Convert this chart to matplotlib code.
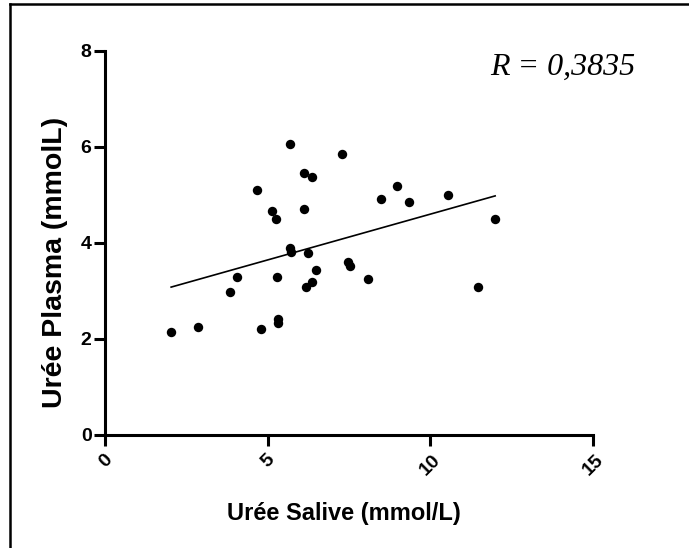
import numpy as np
import matplotlib
matplotlib.use("Agg")
import matplotlib.pyplot as plt
from matplotlib.lines import Line2D

# Urée salive vs urée plasma (mmol/L)
salive = [2.02, 2.86, 3.82, 4.04, 4.78, 5.31, 5.32, 5.29, 4.65, 5.12, 5.25,
          5.67, 6.12, 6.35, 6.11, 5.68, 5.70, 6.23, 6.48, 6.35, 6.17, 7.27,
          7.47, 7.53, 8.08, 8.47, 8.96, 9.33, 10.55, 11.46, 11.99]
plasma = [2.13, 2.25, 2.98, 3.28, 2.20, 2.41, 2.32, 3.28, 5.10, 4.66, 4.49,
          6.06, 5.45, 5.37, 4.70, 3.88, 3.80, 3.78, 3.43, 3.18, 3.08, 5.84,
          3.60, 3.52, 3.25, 4.91, 5.17, 4.84, 4.99, 3.08, 4.49]
x_ticks = [0, 5, 10, 15]
y_ticks = [0, 2, 4, 6, 8]
r_text = "R = 0,3835"

plt.rcParams['font.family'] = ['Liberation Sans', 'DejaVu Sans']

fig = plt.figure(figsize=(6.89, 5.48), dpi=100)
ax = fig.add_axes([0.1531, 0.2071, 0.7075, 0.7004])

x = np.array(salive)
y = np.array(plasma)
ax.scatter(x, y, s=46, color='black', zorder=3, linewidths=0)

# droite de régression
a, b = np.polyfit(x, y, 1)
xl = np.array([x.min(), x.max()])
ax.plot(xl, a * xl + b, color='black', lw=1.2)

ax.set_xlim(0, 15)
ax.set_ylim(0, 8)
ax.set_xticks(x_ticks)
ax.set_yticks(y_ticks)
ax.set_xticklabels([str(t) for t in x_ticks], rotation=45, fontweight='bold', fontsize=14)
ax.set_yticklabels([str(t) for t in y_ticks], fontweight='bold', fontsize=14)

for side in ['top', 'right']:
    ax.spines[side].set_visible(False)
for side in ['left', 'bottom']:
    ax.spines[side].set_linewidth(2.2)
ax.tick_params(axis='both', length=8, width=2.2, direction='out')
ax.tick_params(axis='y', pad=2)
ax.tick_params(axis='x', pad=4)

ax.set_xlabel("Urée Salive (mmol/L)", fontsize=17, fontweight='bold', va='top')
ax.set_ylabel("Urée Plasma (mmolL)", fontsize=20.5, fontweight='bold', va='bottom')
ax.xaxis.set_label_coords(0.49, -0.176)
ax.yaxis.set_label_coords(-0.077, 0.449)

ax.text(1.086, 0.937, r_text, transform=ax.transAxes, ha='right', va='baseline',
        fontsize=23, fontstyle='italic', family=['Liberation Serif', 'DejaVu Serif'])

# cadre (haut et gauche visibles)
fig.add_artist(Line2D([10 / 689, 10 / 689], [0, 1 - 4 / 548], color='black', lw=1.8,
                      transform=fig.transFigure))
fig.add_artist(Line2D([10 / 689, 1], [1 - 4 / 548, 1 - 4 / 548], color='black', lw=1.8,
                      transform=fig.transFigure))

fig.savefig("out.png", dpi=100)
